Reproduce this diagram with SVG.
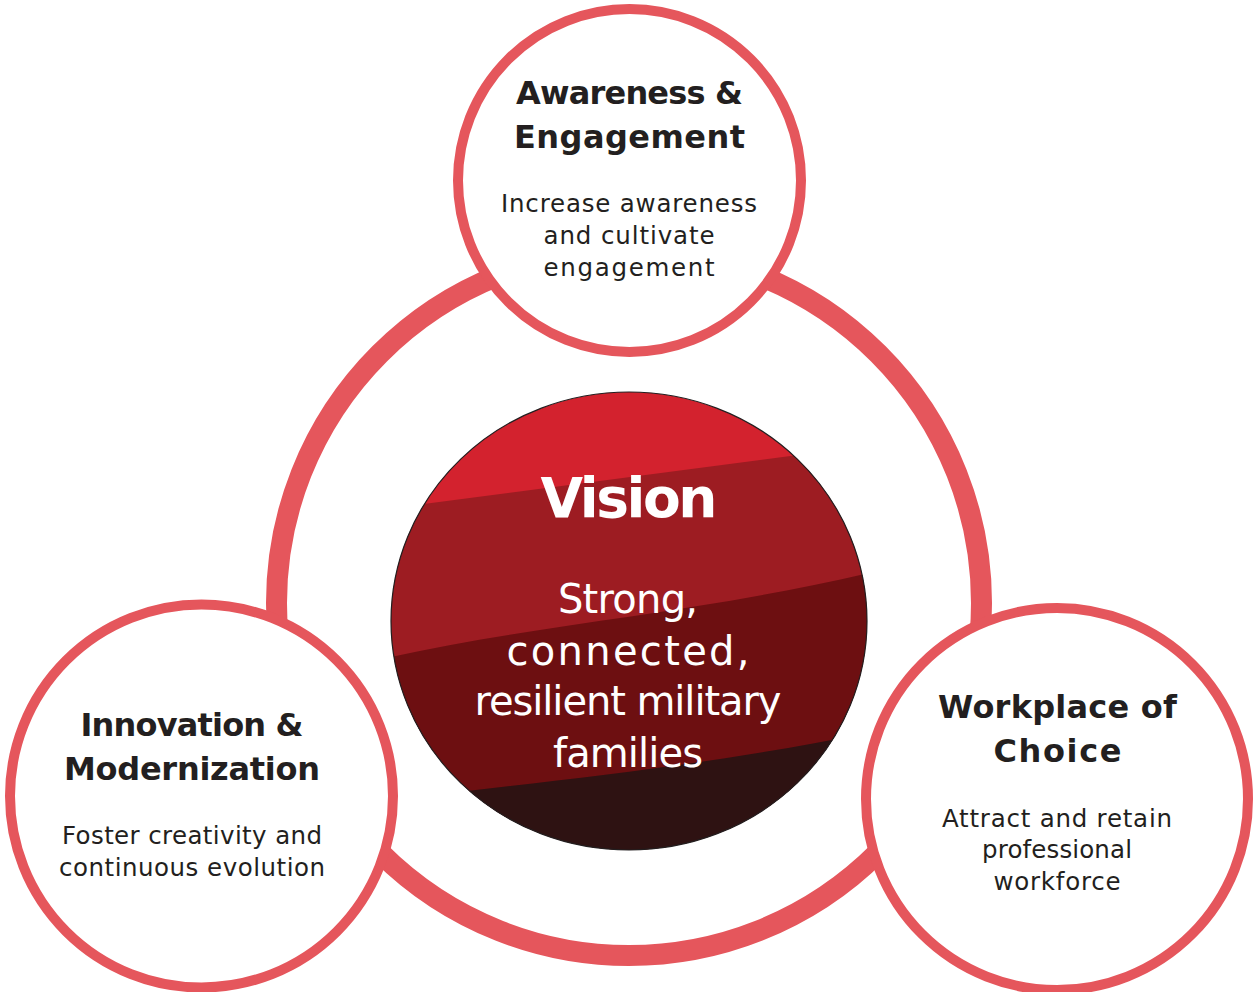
<svg xmlns="http://www.w3.org/2000/svg" width="1260" height="992" viewBox="0 0 1260 992">
<style>
.ring{fill:none;stroke:#E5565C;stroke-width:21}
.node{fill:#FFFFFF;stroke:#E5565C;stroke-width:10}
.title{font-family:"DejaVu Sans",sans-serif;font-weight:bold;font-size:32px;fill:#231F20;text-anchor:middle}
.sub{font-family:"DejaVu Sans",sans-serif;font-size:24.5px;fill:#231F20;text-anchor:middle}
.vt{font-family:"DejaVu Sans",sans-serif;font-weight:bold;font-size:55px;fill:#FFFFFF;text-anchor:middle}
.vs{font-family:"DejaVu Sans",sans-serif;font-size:40px;fill:#FFFFFF;text-anchor:middle}
</style>
<defs>
<clipPath id="vclip"><ellipse cx="629" cy="621" rx="238" ry="229"/></clipPath>
</defs>
<rect width="1260" height="992" fill="#FFFFFF"/>
<g id="connectors">
<circle class="ring" cx="629" cy="603" r="352.5"/>
</g>
<g id="vision">
<g clip-path="url(#vclip)">
<rect x="370" y="380" width="520" height="500" fill="#D3222E"/>
<path d="M370,511 L890,443 L890,880 L370,880 Z" fill="#9D1C22"/>
<path d="M370,662 C520,625 700,615 890,568 L890,880 L370,880 Z" fill="#6D0F11"/>
<path d="M370,802 C560,780 720,765 890,728 L890,880 L370,880 Z" fill="#2E1212"/>
</g>
<ellipse cx="629" cy="621" rx="238" ry="229" fill="none" stroke="#231F20" stroke-width="1.2"/>
<text class="vt" x="629" y="517" textLength="177" lengthAdjust="spacing">Vision</text>
<text class="vs" x="628" y="613" textLength="140" lengthAdjust="spacing">Strong,</text>
<text class="vs" x="628" y="665" textLength="243" lengthAdjust="spacing">connected,</text>
<text class="vs" x="628" y="715" textLength="307" lengthAdjust="spacing">resilient military</text>
<text class="vs" x="628" y="767" textLength="150" lengthAdjust="spacing">families</text>
</g>
<g id="awareness">
<circle class="node" cx="629.5" cy="180.5" r="171.5"/>
<text class="title" x="629.5" y="104" textLength="227" lengthAdjust="spacing">Awareness &amp;</text>
<text class="title" x="629.5" y="148" textLength="231" lengthAdjust="spacing">Engagement</text>
<text class="sub" x="629" y="212" textLength="256" lengthAdjust="spacing">Increase awareness</text>
<text class="sub" x="629" y="244" textLength="171" lengthAdjust="spacing">and cultivate</text>
<text class="sub" x="629" y="276" textLength="171" lengthAdjust="spacing">engagement</text>
</g>
<g id="innovation">
<circle class="node" cx="201.5" cy="796" r="191.5"/>
<text class="title" x="192" y="736" textLength="223" lengthAdjust="spacing">Innovation &amp;</text>
<text class="title" x="192" y="780" textLength="256" lengthAdjust="spacing">Modernization</text>
<text class="sub" x="192" y="844" textLength="260" lengthAdjust="spacing">Foster creativity and</text>
<text class="sub" x="192" y="876" textLength="266" lengthAdjust="spacing">continuous evolution</text>
</g>
<g id="workplace">
<circle class="node" cx="1057" cy="799" r="191"/>
<text class="title" x="1057.5" y="718" textLength="239" lengthAdjust="spacing">Workplace of</text>
<text class="title" x="1057.5" y="762" textLength="128" lengthAdjust="spacing">Choice</text>
<text class="sub" x="1057" y="827" textLength="230" lengthAdjust="spacing">Attract and retain</text>
<text class="sub" x="1057" y="858" textLength="150" lengthAdjust="spacing">professional</text>
<text class="sub" x="1057" y="890" textLength="127" lengthAdjust="spacing">workforce</text>
</g>
</svg>
